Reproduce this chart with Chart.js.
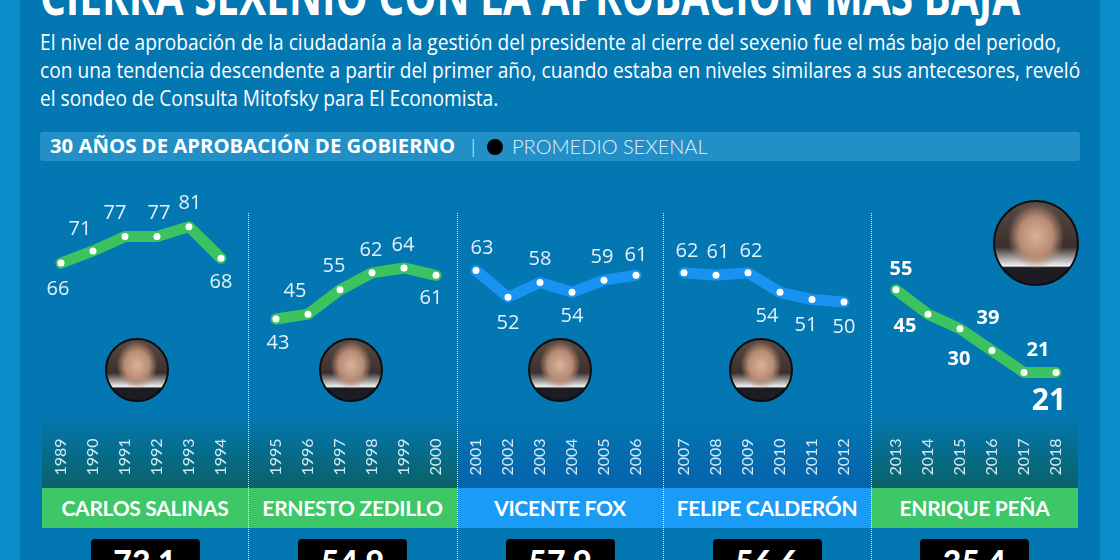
<!DOCTYPE html>
<html lang="es">
<head>
<meta charset="utf-8">
<title>Aprobación presidencial</title>
<script src="https://cdn.jsdelivr.net/npm/chart.js@4.4.1/dist/chart.umd.min.js"></script>
<style>
  html, body { margin: 0; padding: 0; }
  body { width: 1120px; height: 560px; overflow: hidden; background: #0a8dca; position: relative; font-family: "Open Sans", sans-serif; color: #fff; }
  #panel { position: absolute; left: 20px; top: 0; width: 1080px; height: 560px; background: #0377b1; }
  h1 { position: absolute; left: 40px; top: -33px; margin: 0; font: bold 54px/54px "Open Sans", sans-serif; white-space: nowrap; transform-origin: 0 0; }
  .intro { position: absolute; left: 40px; top: 28px; margin: 0; font-size: 21px; line-height: 28px; white-space: nowrap; transform-origin: 0 0; }
  .legend { position: absolute; left: 40px; top: 132px; width: 1040px; height: 29px; background: #2290c6; border-radius: 3px; font-size: 19px; line-height: 29px; }
  .legend b { position: absolute; left: 10px; font: 700 19px/29px "Open Sans", sans-serif; transform-origin: 0 50%; }
  .legend .sep { position: absolute; left: 428px; color: #cfe6f4; font-weight: 300; }
  .legend .dot { position: absolute; left: 447px; top: 7px; width: 16px; height: 16px; border-radius: 50%; background: #000; }
  .legend .avg { position: absolute; left: 472px; font: 300 20px/29px Lato, sans-serif; color: #e4f1fa; }
  .band { position: absolute; top: 416px; height: 72px; }
  .name { position: absolute; top: 488px; height: 40px; text-align: center; font: bold 21px/40px Lato, sans-serif; letter-spacing: -0.3px; }
  .avgbox { position: absolute; top: 539px; width: 109px; height: 40px; background: #000; border-radius: 4px; text-align: center; font: 900 32px/46px Lato, sans-serif; }
  .divider { position: absolute; top: 213px; height: 347px; width: 0; border-left: 1px dotted rgba(255,255,255,0.85); }
  .face { position: absolute; border-radius: 50%; border: 2px solid #0d0d10; box-sizing: border-box;
          background: radial-gradient(ellipse 34% 40% at 50% 42%, #d6b29a 0%, #b88c72 60%, rgba(120,90,75,0) 100%),
                      linear-gradient(180deg, #5a4a44 0%, #3a302e 55%, #f2f2f2 78%, #1c1c22 80%, #1c1c22 100%); }
  .slot { position: absolute; top: 160px; width: 200px; height: 330px; }
</style>
</head>
<body>
<div id="panel"></div>
<h1 id="title">CIERRA SEXENIO CON LA APROBACIÓN MÁS BAJA</h1>
<p class="intro" id="intro">El nivel de aprobación de la ciudadanía a la gestión del presidente al cierre del sexenio fue el más bajo del periodo,<br>con una tendencia descendente a partir del primer año, cuando estaba en niveles similares a sus antecesores, reveló<br>el sondeo de Consulta Mitofsky para El Economista.</p>
<div class="legend"><b id="legendTitle">30 AÑOS DE APROBACIÓN DE GOBIERNO</b><span class="sep">|</span><span class="dot"></span><span class="avg">PROMEDIO SEXENAL</span></div>
<div id="board"></div>
<script>
// approval per year, one list per sexenio
const years = ['1989', '1990', '1991', '1992', '1993', '1994',
  '1995', '1996', '1997', '1998', '1999', '2000',
  '2001', '2002', '2003', '2004', '2005', '2006',
  '2007', '2008', '2009', '2010', '2011', '2012',
  '2013', '2014', '2015', '2016', '2017', '2018'];
const presidents = ['CARLOS SALINAS', 'ERNESTO ZEDILLO', 'VICENTE FOX', 'FELIPE CALDERÓN', 'ENRIQUE PEÑA'];
const salinas = [66, 71, 77, 77, 81, 68];
const zedillo = [43, 45, 55, 62, 64, 61];
const fox = [63, 52, 58, 54, 59, 61];
const calderon = [62, 61, 62, 54, 51, 50];
const pena = [55, 45, 39, 30, 21, 21];
const averages = ['73.1', '54.9', '57.9', '56.6', '35.4'];
const parties = ['PRI', 'PRI', 'PAN', 'PAN', 'PRI'];

const series = [salinas, zedillo, fox, calderon, pena];

// layout
const panelEdges = [42, 248, 457, 663, 871, 1078];
const chartLefts = [41, 256, 456, 664, 876];
const faces = [[137, 370, 64], [351, 370, 64], [560, 370, 64], [761, 370, 64], [1036, 243, 86]];
const lineColors = { PRI: '#3cc35f', PAN: '#1993f1' };
const barColors = { PRI: '#3ec766', PAN: '#1a9bf5' };
const bandColors = { PRI: '#0a6266', PAN: '#0563ab' };

// label position relative to its point, [dx, dy]
const labelOffsets = [
  [[-3, 26], [-13, -22], [-10, -23], [2, -23], [1, -23], [0, 24]],
  [[2, 24], [-13, -23], [-6, -24], [-1, -23], [-1, -23], [-5, 23]],
  [[6, -22], [0, 26], [0, -23], [0, 24], [-2, -23], [0, -20]],
  [[3, -22], [2, -23], [3, -22], [-13, 24], [-6, 26], [0, 25]],
  [[5, -21], [-23, 12], [28, -10], [-33, 9], [14, -22], [-7, 27]]
];

// squeeze a text block horizontally to a target width (condensed look)
function fitWidth(id, target) {
  const el = document.getElementById(id);
  el.style.transform = 'scaleX(' + (target / el.scrollWidth) + ')';
}
fitWidth('title', 980);
fitWidth('intro', 1040);
fitWidth('legendTitle', 405);

const valueLabels = {
  id: 'valueLabels',
  afterDatasetsDraw(chart, args, opts) {
    const ctx = chart.ctx;
    const meta = chart.getDatasetMeta(0);
    const values = chart.data.datasets[0].data;
    ctx.save();
    ctx.textAlign = 'center';
    ctx.textBaseline = 'middle';
    ctx.fillStyle = opts.color;
    meta.data.forEach((pt, i) => {
      const off = opts.offsets[i];
      const big = opts.bigLast && i === values.length - 1;
      ctx.font = (opts.bold ? 'bold ' : '') + (big ? 30 : 20) + 'px ' + opts.family;
      ctx.fillText(values[i], pt.x + off[0], pt.y + off[1] + (big ? 2 : 0));
    });
    ctx.restore();
  }
};

const board = document.getElementById('board');

function addDiv(cls, css, text) {
  const el = document.createElement('div');
  el.className = cls;
  Object.assign(el.style, css);
  if (text) el.textContent = text;
  board.appendChild(el);
  return el;
}

presidents.forEach((name, i) => {
  const party = parties[i];
  const left = panelEdges[i];
  const width = panelEdges[i + 1] - left;

  addDiv('band', { left: left + 'px', width: width + 'px',
    background: 'linear-gradient(180deg, rgba(3,119,177,0) 0%, ' + bandColors[party] + ' 100%)' });
  addDiv('name', { left: left + 'px', width: width + 'px', background: barColors[party] }, name);
  addDiv('avgbox', { left: (left + width / 2 - 54.5) + 'px' }, averages[i]);

  const f = faces[i];
  addDiv('face', { left: (f[0] - f[2] / 2) + 'px', top: (f[1] - f[2] / 2) + 'px', width: f[2] + 'px', height: f[2] + 'px' });

  const slot = addDiv('slot', { left: chartLefts[i] + 'px' });
  const canvas = document.createElement('canvas');
  canvas.width = 200;
  canvas.height = 330;
  slot.appendChild(canvas);

  const isPena = i === presidents.length - 1;
  new Chart(canvas, {
    type: 'line',
    data: {
      labels: years.slice(i * 6, i * 6 + 6),
      datasets: [{
        data: series[i],
        borderColor: lineColors[party],
        borderWidth: 11,
        borderCapStyle: 'round',
        borderJoinStyle: 'round',
        tension: 0,
        pointRadius: 3.5,
        pointBackgroundColor: '#ffffff',
        pointBorderWidth: 0,
        clip: false
      }]
    },
    options: {
      responsive: false,
      animation: false,
      layout: { padding: { top: 20.5, left: 0, right: 0, bottom: 0 } },
      plugins: {
        legend: { display: false },
        tooltip: { enabled: false },
        valueLabels: {
          offsets: labelOffsets[i],
          color: isPena ? '#ffffff' : '#e4f1fb',
          bold: isPena,
          bigLast: isPena,
          family: '"Open Sans", sans-serif'
        }
      },
      scales: {
        x: {
          offset: true,
          grid: { display: false, drawTicks: false },
          border: { display: false },
          ticks: {
            autoSkip: false,
            minRotation: 90,
            maxRotation: 90,
            padding: 15,
            color: 'rgba(232,243,251,0.92)',
            font: { family: 'Lato', size: 16, weight: '400' }
          },
          afterFit: (scale) => {
            scale.height = 66.5;
            scale.paddingLeft = 0;
            scale.paddingRight = 0;
          }
        },
        y: { display: false, min: 0, max: 100 }
      }
    },
    plugins: [valueLabels]
  });
});

panelEdges.slice(1, -1).forEach((x) => addDiv('divider', { left: x + 'px' }));
</script>
</body>
</html>
